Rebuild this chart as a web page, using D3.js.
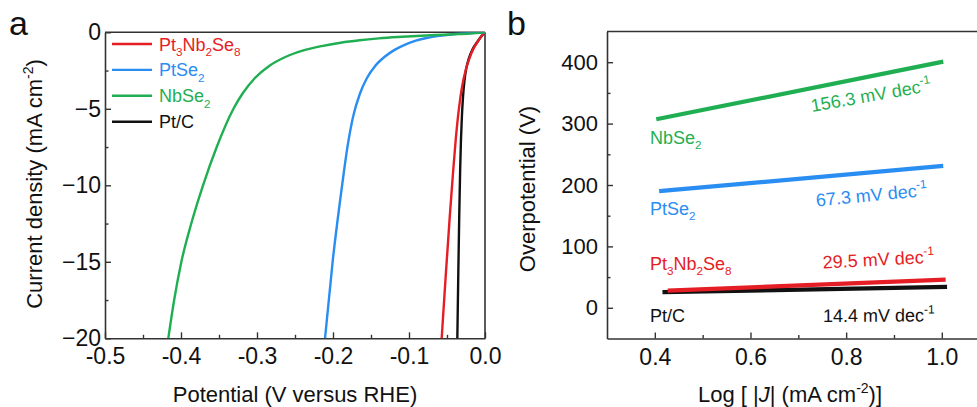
<!DOCTYPE html>
<html><head><meta charset="utf-8">
<script src="https://cdn.jsdelivr.net/npm/d3@7/dist/d3.min.js"></script>
<style>
body{margin:0;background:#fff}
svg{display:block}
text{font-family:Arial,"Liberation Sans",sans-serif}
</style>
</head><body>
<svg id="c" width="977" height="407"></svg>
<script>
// ---------- DATA ----------
const seriesNames = ["Pt3Nb2Se8", "PtSe2", "NbSe2", "Pt/C"];
const seriesColors = ["#e51d24", "#2a8df2", "#1faf52", "#111111"];

// Panel a: LSV polarization curves [potential (V vs RHE), current density (mA cm-2)]
const lsvPt3Nb2Se8 = [[-0.057,-20],[-0.0518,-16],[-0.0463,-12],[-0.0418,-9],[-0.0385,-7],[-0.0355,-5.5],[-0.0322,-4.2],[-0.0288,-3.2],[-0.025,-2.4],[-0.0205,-1.7],[-0.0155,-1.1],[-0.0095,-0.6],[-0.0045,-0.25],[0,0]];
const lsvPtSe2 = [[-0.2105,-20],[-0.2005,-15],[-0.188,-10],[-0.181,-7.5],[-0.1735,-5.5],[-0.1645,-4],[-0.1555,-3],[-0.1445,-2.2],[-0.132,-1.6],[-0.119,-1.15],[-0.105,-0.8],[-0.091,-0.55],[-0.077,-0.37],[-0.063,-0.25],[-0.048,-0.16],[-0.03,-0.08],[0,0]];
const lsvNbSe2 = [[-0.4167,-20],[-0.409,-17.5],[-0.3995,-15],[-0.3865,-12.5],[-0.371,-10],[-0.353,-7.5],[-0.331,-5],[-0.319,-4],[-0.303,-3],[-0.284,-2.2],[-0.262,-1.6],[-0.240,-1.2],[-0.215,-0.9],[-0.19,-0.68],[-0.165,-0.52],[-0.14,-0.4],[-0.115,-0.31],[-0.09,-0.24],[-0.065,-0.18],[-0.04,-0.13],[-0.02,-0.08],[0,0]];
const lsvPtC = [[-0.0364,-20],[-0.0352,-16],[-0.0339,-12],[-0.0327,-9],[-0.0316,-7],[-0.0304,-5.5],[-0.0289,-4.2],[-0.0271,-3.2],[-0.0248,-2.4],[-0.0212,-1.7],[-0.0162,-1.1],[-0.0098,-0.6],[-0.0046,-0.25],[0,0]];

const lsvXTicks = [-0.5,-0.4,-0.3,-0.2,-0.1,0.0];
const lsvXTickLabels = ["-0.5","-0.4","-0.3","-0.2","-0.1","0.0"];
const lsvYTicks = [0,-5,-10,-15,-20];

// Panel b: Tafel plots [log|J|, overpotential (mV)]
const tafelPt3Nb2Se8 = [[0.427,28],[1.008,46]];
const tafelPtSe2 = [[0.409,190],[1.003,231]];
const tafelNbSe2 = [[0.403,307],[1.003,401]];
const tafelPtC = [[0.416,25.5],[1.011,34]];
const tafelSlopes = ["29.5","67.3","156.3","14.4"];

const tafelXTicks = [0.4,0.6,0.8,1.0];
const tafelYTicks = [0,100,200,300,400];

// ---------- DRAW ----------
const svg = d3.select("#c");
const axisColor = "#333";
const FONT = 'Arial,"Liberation Sans",sans-serif';

function chem(sel, name, fs) {
  const parts = name.match(/[A-Za-z\/]+|\d+/g);
  let shifted = false;
  parts.forEach(p => {
    const isNum = /^\d+$/.test(p);
    const t = sel.append("tspan").text(p);
    if (isNum) { t.attr("font-size", fs * 0.65).attr("dy", shifted ? 0 : fs * 0.3); shifted = true; }
    else if (shifted) { t.attr("dy", -fs * 0.3); shifted = false; }
  });
}
function styleAxis(g, fs) {
  g.select(".domain").attr("stroke", axisColor).attr("stroke-width", 1.6);
  g.selectAll(".tick line").attr("stroke", axisColor).attr("stroke-width", 1.4);
  g.selectAll(".tick text").attr("font-size", fs).attr("fill", "#111").attr("font-family", FONT);
}

// ---- Panel a ----
const ax = d3.scaleLinear().domain([-0.5, 0]).range([105, 485]);
const ay = d3.scaleLinear().domain([-20, 0]).range([338.3, 32.3]);

svg.append("defs").append("clipPath").attr("id", "clipA")
  .append("rect").attr("x", 105).attr("y", 32.3).attr("width", 380).attr("height", 306);

const gA = svg.append("g");
gA.append("g").attr("transform", `translate(0,${ay(-20)})`)
  .call(d3.axisBottom(ax).tickValues(d3.range(-0.45, 0, 0.1)).tickSize(-3.5).tickFormat("").tickSizeOuter(0))
  .call(g => { styleAxis(g, 0); g.select(".domain").remove(); });
gA.append("g").attr("transform", `translate(${ax(-0.5)},0)`)
  .call(d3.axisLeft(ay).tickValues([-2.5,-7.5,-12.5,-17.5]).tickSize(-3.5).tickFormat("").tickSizeOuter(0))
  .call(g => { styleAxis(g, 0); g.select(".domain").remove(); });
gA.append("g").attr("transform", `translate(0,${ay(-20)})`)
  .call(d3.axisBottom(ax).tickValues(lsvXTicks).tickSize(-6).tickSizeOuter(0).tickPadding(9)
    .tickFormat((d, i) => lsvXTickLabels[i]))
  .call(g => styleAxis(g, 23));
gA.append("g").attr("transform", `translate(${ax(-0.5)},0)`)
  .call(d3.axisLeft(ay).tickValues(lsvYTicks).tickSize(-6).tickSizeOuter(0).tickPadding(4)
    .tickFormat(d3.format("d")))
  .call(g => styleAxis(g, 23));
gA.append("line").attr("x1", ax(-0.5)).attr("x2", ax(0)).attr("y1", ay(0)).attr("y2", ay(0))
  .attr("stroke", axisColor).attr("stroke-width", 1.6);
gA.append("line").attr("x1", ax(0)).attr("x2", ax(0)).attr("y1", ay(0)).attr("y2", ay(-20))
  .attr("stroke", axisColor).attr("stroke-width", 1.6);

const lineA = d3.line().x(d => ax(d[0])).y(d => ay(d[1])).curve(d3.curveMonotoneX);
const lsvData = [lsvPt3Nb2Se8, lsvPtSe2, lsvNbSe2, lsvPtC];
const drawOrderA = [3, 0, 1, 2];
const curvesA = gA.append("g").attr("clip-path", "url(#clipA)");
drawOrderA.forEach(i => {
  curvesA.append("path").datum(lsvData[i]).attr("d", lineA)
    .attr("fill", "none").attr("stroke", seriesColors[i]).attr("stroke-width", 2.4)
    .attr("stroke-linejoin", "round");
});

// legend
seriesNames.forEach((n, i) => {
  const yy = 44 + i * 25.9;
  gA.append("line").attr("x1", 112).attr("x2", 152).attr("y1", yy).attr("y2", yy)
    .attr("stroke", seriesColors[i]).attr("stroke-width", 2.4);
  const t = gA.append("text").attr("x", 159).attr("y", yy + 6.5).attr("font-size", 18)
    .attr("fill", seriesColors[i]);
  chem(t, n, 18);
});

gA.append("text").attr("x", ax(-0.25)).attr("y", 402).attr("text-anchor", "middle")
  .attr("font-size", 22).attr("fill", "#111").text("Potential (V versus RHE)");
const ytA = gA.append("text").attr("transform", "translate(42,184) rotate(-90)")
  .attr("text-anchor", "middle").attr("font-size", 22).attr("fill", "#111");
ytA.append("tspan").text("Current density (mA cm");
ytA.append("tspan").attr("font-size", 14).attr("dy", -9).text("-2");
ytA.append("tspan").attr("dy", 9).text(")");
gA.append("text").attr("x", 9).attr("y", 35).attr("font-size", 34).attr("fill", "#111").text("a");

// ---- Panel b ----
const bx = d3.scaleLinear().domain([0.3, 1.1]).range([607, 607 + 0.8 * 478.3]);
const by = d3.scaleLinear().domain([-50, 450]).range([338.5, 31.5]);
const gB = svg.append("g");
gB.append("g").attr("transform", `translate(0,${by(-50)})`)
  .call(d3.axisBottom(bx).tickValues([0.5,0.7,0.9]).tickSize(-3.5).tickFormat("").tickSizeOuter(0))
  .call(g => { styleAxis(g, 0); g.select(".domain").remove(); });
gB.append("g").attr("transform", `translate(${bx(0.3)},0)`)
  .call(d3.axisLeft(by).tickValues([50,150,250,350]).tickSize(-3.5).tickFormat("").tickSizeOuter(0))
  .call(g => { styleAxis(g, 0); g.select(".domain").remove(); });
gB.append("g").attr("transform", `translate(0,${by(-50)})`)
  .call(d3.axisBottom(bx).tickValues(tafelXTicks).tickSize(-6).tickSizeOuter(0).tickPadding(10)
    .tickFormat(d3.format(".1f")))
  .call(g => styleAxis(g, 23));
gB.append("g").attr("transform", `translate(${bx(0.3)},0)`)
  .call(d3.axisLeft(by).tickValues(tafelYTicks).tickSize(-6).tickSizeOuter(0).tickPadding(9)
    .tickFormat(d3.format("d")))
  .call(g => styleAxis(g, 22));
gB.append("line").attr("x1", bx(0.3)).attr("x2", bx(1.1)).attr("y1", by(450)).attr("y2", by(450))
  .attr("stroke", axisColor).attr("stroke-width", 1.6);
gB.append("line").attr("x1", bx(1.1)).attr("x2", bx(1.1)).attr("y1", by(450)).attr("y2", by(-50))
  .attr("stroke", axisColor).attr("stroke-width", 1.6);

const lineB = d3.line().x(d => bx(d[0])).y(d => by(d[1]));
const tafelData = [tafelPt3Nb2Se8, tafelPtSe2, tafelNbSe2, tafelPtC];
[3, 2, 1, 0].forEach(i => {
  gB.append("path").datum(tafelData[i]).attr("d", lineB).attr("fill", "none")
    .attr("stroke", seriesColors[i]).attr("stroke-width", 4.2).attr("stroke-linecap", "butt");
});

const nameBaseY = [270, 215, 143.5, 322];
const slopePos = [[823, 268.5, -3], [816.5, 206.5, -5.5], [812, 112, -10], [823, 322, -0.3]];
seriesNames.forEach((n, i) => {
  const t = gB.append("text").attr("x", 650).attr("y", nameBaseY[i]).attr("font-size", 18)
    .attr("fill", seriesColors[i]);
  chem(t, n, 18);
  const [sx, sy, ang] = slopePos[i];
  const s = gB.append("text").attr("transform", `translate(${sx},${sy}) rotate(${ang})`)
    .attr("font-size", 18).attr("fill", seriesColors[i]);
  s.append("tspan").text(tafelSlopes[i] + " mV dec");
  s.append("tspan").attr("font-size", 12).attr("dy", -8).text("-1");
});

const xtB = gB.append("text").attr("x", 790).attr("y", 402).attr("text-anchor", "middle")
  .attr("font-size", 22).attr("fill", "#111");
xtB.append("tspan").text("Log [ |");
xtB.append("tspan").attr("font-style", "italic").text("J");
xtB.append("tspan").text("| (mA cm");
xtB.append("tspan").attr("font-size", 14).attr("dy", -9).text("-2");
xtB.append("tspan").attr("dy", 9).text(")]");
gB.append("text").attr("transform", "translate(535,189) rotate(-90)").attr("text-anchor", "middle")
  .attr("font-size", 22).attr("fill", "#111").text("Overpotential (V)");
gB.append("text").attr("x", 507).attr("y", 35).attr("font-size", 34).attr("fill", "#111").text("b");
</script>
</body></html>
